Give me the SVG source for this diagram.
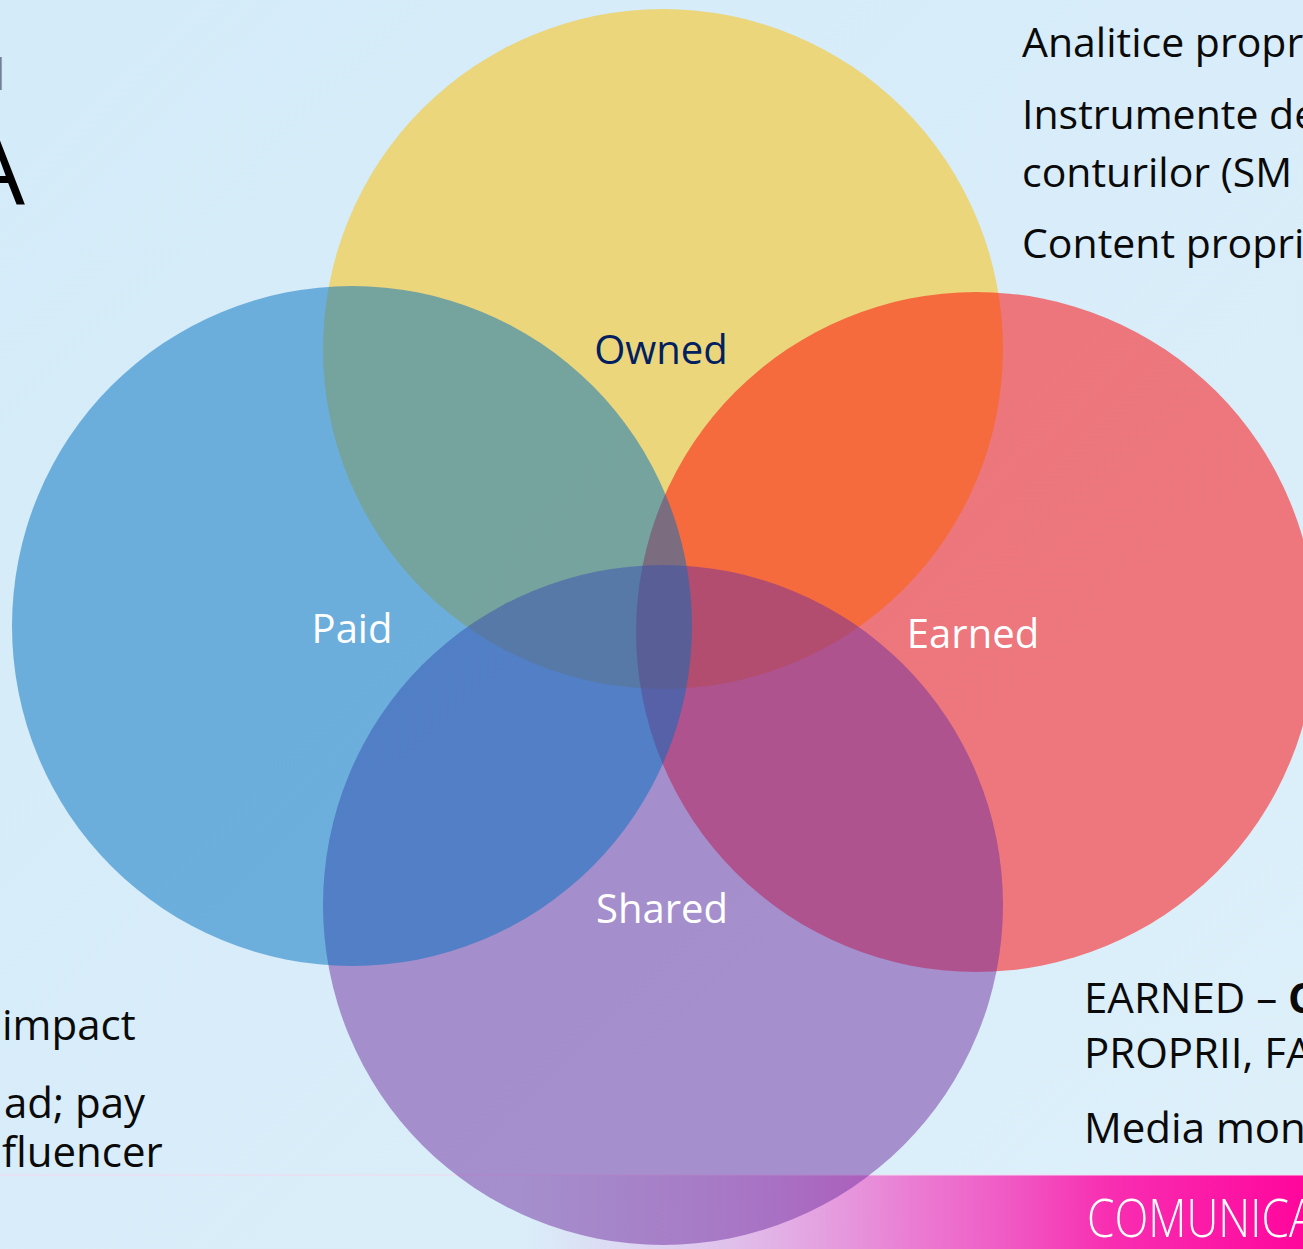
<svg xmlns="http://www.w3.org/2000/svg" width="1303" height="1249" viewBox="0 0 1303 1249">
  <style>
    .side { font-family: "Open Sans", "Noto Sans", sans-serif; font-size: 41px; fill: #0a0a0a; }
    .side-lg { font-family: "Open Sans", "Noto Sans", sans-serif; font-size: 42px; fill: #0a0a0a; }
    .label { font-family: "Open Sans", "Noto Sans", sans-serif; font-size: 40px; text-anchor: middle; }
    .ring { fill-opacity: 0.5; }
    .banner { font-family: "Open Sans", "Noto Sans", sans-serif; font-weight: 300; font-size: 54px; fill: #ffffff; }
  </style>
  <defs>
    <linearGradient id="bg" x1="0" y1="0" x2="1" y2="1">
      <stop offset="0" stop-color="#D4EBF9"/>
      <stop offset="0.5" stop-color="#D8EDF9"/>
      <stop offset="1" stop-color="#DDF0FA"/>
    </linearGradient>
    <linearGradient id="bar" x1="0" y1="0" x2="1303" y2="0" gradientUnits="userSpaceOnUse">
      <stop offset="0.40" stop-color="#E070D0" stop-opacity="0"/>
      <stop offset="0.56" stop-color="#E86AD0" stop-opacity="0.35"/>
      <stop offset="0.70" stop-color="#F050C4" stop-opacity="0.72"/>
      <stop offset="0.85" stop-color="#FA20AC" stop-opacity="0.93"/>
      <stop offset="1" stop-color="#FF069C" stop-opacity="1"/>
    </linearGradient>
  </defs>

  <!-- page background -->
  <rect x="0" y="0" width="1303" height="1249" fill="url(#bg)"/>

  <!-- footer band -->
  <g id="footer">
    <rect x="0" y="1175" width="1303" height="74" fill="url(#bar)"/>
    <rect x="0" y="1174" width="1303" height="2" fill="#F4D8F0" fill-opacity="0.5"/>
    <text class="banner" transform="translate(1087,1237) scale(0.82,1)">COMUNICA</text>
  </g>

  <!-- title fragments at the left edge -->
  <g id="title">
    <text x="-6.5" y="90" font-family="Open Sans, sans-serif" font-size="45" fill="#7F7F7F">I</text>
    <text x="25" y="205" font-family="Open Sans, sans-serif" font-size="96" fill="#000000" text-anchor="end">A</text>
  </g>

  <!-- Venn circles, each with its label -->
  <g id="owned">
    <circle class="ring" cx="663" cy="349" r="340" fill="#FFC000"/>
    <text class="label" x="661" y="364" fill="#002060">Owned</text>
  </g>
  <g id="earned">
    <circle class="ring" cx="976" cy="632" r="340" fill="#FF0000"/>
    <text class="label" x="973" y="648" fill="#FFFFFF">Earned</text>
  </g>
  <g id="shared">
    <circle class="ring" cx="663" cy="905" r="340" fill="#7030A0"/>
    <text class="label" x="662" y="923" fill="#FFFFFF">Shared</text>
  </g>
  <g id="paid">
    <circle class="ring" cx="352" cy="626" r="340" fill="#0070C0"/>
    <text class="label" x="352" y="643" fill="#FFFFFF">Paid</text>
  </g>

  <!-- owned notes, top right -->
  <g id="owned-notes">
    <text class="side" x="1022" y="57">Analitice propr</text>
    <text class="side" x="1022" y="129">Instrumente de</text>
    <text class="side" x="1022" y="187">conturilor (SM</text>
    <text class="side" x="1022" y="258">Content propri</text>
  </g>

  <!-- paid notes, bottom left -->
  <g id="paid-notes">
    <text class="side-lg" x="2" y="1040">impact</text>
    <text class="side-lg" x="4" y="1118">ad; pay</text>
    <text class="side-lg" x="2" y="1167">fluencer</text>
  </g>

  <!-- earned notes, bottom right -->
  <g id="earned-notes">
    <text class="side-lg" x="1084" y="1013">EARNED – <tspan font-weight="bold">C</tspan></text>
    <text class="side-lg" x="1084" y="1068">PROPRII, FA</text>
    <text class="side-lg" x="1084" y="1143">Media mon</text>
  </g>
</svg>
